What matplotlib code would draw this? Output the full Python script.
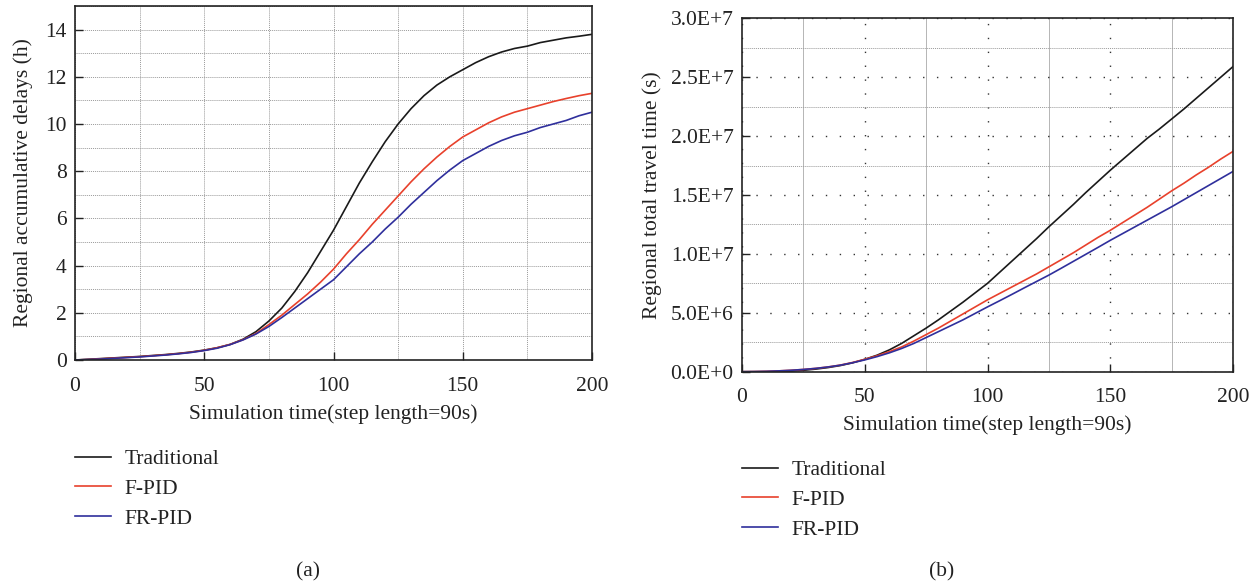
import matplotlib
matplotlib.use("Agg")
import matplotlib.pyplot as plt
from matplotlib.ticker import MultipleLocator, FixedLocator

plt.rcParams['font.family'] = ['Liberation Serif', 'DejaVu Serif']

steps = list(range(0, 201, 5))

delay_traditional = [0, 0.03, 0.06, 0.09, 0.12, 0.15, 0.19, 0.23, 0.28, 0.34, 0.42, 0.52, 0.66, 0.88,
                     1.2, 1.65, 2.2, 2.9, 3.7, 4.6, 5.5, 6.5, 7.5, 8.4, 9.25, 10.0, 10.65, 11.2, 11.65,
                     12.0, 12.3, 12.6, 12.85, 13.05, 13.2, 13.3, 13.45, 13.55, 13.65, 13.72, 13.8]
delay_fpid = [0, 0.02, 0.05, 0.08, 0.11, 0.14, 0.18, 0.22, 0.27, 0.33, 0.41, 0.52, 0.66, 0.86,
              1.12, 1.5, 1.9, 2.35, 2.8, 3.3, 3.85, 4.5, 5.1, 5.75, 6.35, 6.95, 7.55, 8.1, 8.6,
              9.05, 9.45, 9.75, 10.05, 10.3, 10.5, 10.65, 10.8, 10.95, 11.08, 11.2, 11.3]
delay_frpid = [0, 0.02, 0.04, 0.07, 0.1, 0.13, 0.17, 0.21, 0.26, 0.32, 0.4, 0.5, 0.65, 0.85,
               1.1, 1.42, 1.8, 2.2, 2.6, 3.0, 3.4, 3.95, 4.5, 5.0, 5.55, 6.05, 6.6, 7.1, 7.6,
               8.05, 8.45, 8.75, 9.05, 9.3, 9.5, 9.65, 9.85, 10.0, 10.15, 10.35, 10.5]

# total travel time in units of 1e7 s
tt_traditional = [0, 0, 0, 0.001, 0.005, 0.012, 0.022, 0.035, 0.052, 0.075, 0.105, 0.14, 0.185,
                  0.24, 0.305, 0.37, 0.44, 0.515, 0.59, 0.67, 0.75, 0.845, 0.94, 1.035, 1.13, 1.23,
                  1.325, 1.42, 1.52, 1.615, 1.71, 1.8, 1.89, 1.98, 2.06, 2.145, 2.23, 2.32, 2.41,
                  2.5, 2.59]
tt_fpid = [0, 0.001, 0.003, 0.007, 0.012, 0.019, 0.028, 0.04, 0.056, 0.078, 0.105, 0.135, 0.17,
           0.21, 0.26, 0.315, 0.37, 0.43, 0.49, 0.55, 0.61, 0.665, 0.72, 0.775, 0.83, 0.89, 0.95,
           1.01, 1.075, 1.14, 1.2, 1.265, 1.33, 1.395, 1.465, 1.535, 1.6, 1.67, 1.735, 1.805, 1.87]
tt_frpid = [0, 0.001, 0.003, 0.007, 0.012, 0.019, 0.028, 0.04, 0.055, 0.076, 0.1, 0.128, 0.16,
            0.197, 0.24, 0.29, 0.34, 0.39, 0.44, 0.495, 0.55, 0.603, 0.657, 0.712, 0.766, 0.82,
            0.878, 0.937, 0.996, 1.055, 1.115, 1.172, 1.229, 1.286, 1.343, 1.40, 1.46, 1.52, 1.58,
            1.64, 1.70]

series_names = ['Traditional', 'F-PID', 'FR-PID']
colors = ['#1a1a1a', '#e8412c', '#2f2f9c']
tt_ticks = [0, 0.5e7, 1.0e7, 1.5e7, 2.0e7, 2.5e7, 3.0e7]
tt_ticklabels = ['0.0E+0', '5.0E+6', '1.0E+7', '1.5E+7', '2.0E+7', '2.5E+7', '3.0E+7']

W, H = 1259, 586
fig = plt.figure(figsize=(W / 100, H / 100), dpi=100)

FS = 15.5
TEXT = '#222222'

def style(ax):
    for s in ax.spines.values():
        s.set_linewidth(1.2)
        s.set_color('#222222')
    ax.tick_params(which='major', direction='in', length=6, width=1, labelsize=FS,
                   colors=TEXT)
    ax.tick_params(axis='x', which='major', pad=12)
    ax.tick_params(axis='y', which='major', pad=6)
    ax.tick_params(which='minor', direction='in', length=0)

LEG = dict(loc='upper left', frameon=False, fontsize=FS, handlelength=1.65,
           handletextpad=0.65, labelspacing=0.45, borderaxespad=0, borderpad=0)

# ---------- panel (a) ----------
ax1 = fig.add_axes([75 / W, 1 - 360 / H, (592 - 75) / W, (360 - 6) / H])
for ys, c, n in zip([delay_traditional, delay_fpid, delay_frpid], colors, series_names):
    ax1.plot(steps, ys, color=c, lw=1.2, label=n)
ax1.set_xlim(0, 200)
ax1.set_ylim(0, 15)
ax1.xaxis.set_major_locator(MultipleLocator(50))
ax1.xaxis.set_minor_locator(MultipleLocator(25))
ax1.yaxis.set_major_locator(FixedLocator([0, 2, 4, 6, 8, 10, 12, 14]))
ax1.yaxis.set_minor_locator(MultipleLocator(1))
ax1.grid(which='both', color='#9a9a9a', linestyle=(0, (1, 1)), linewidth=0.7)
style(ax1)
ax1.set_xlabel('Simulation time(step length=90s)', fontsize=FS, labelpad=6, color=TEXT)
ax1.set_ylabel('Regional accumulative delays (h)', fontsize=FS, labelpad=9, color=TEXT)
leg1 = ax1.legend(bbox_to_anchor=(0, -0.252), **LEG)
for t in leg1.get_texts():
    t.set_color(TEXT)

# ---------- panel (b) ----------
ax2 = fig.add_axes([742 / W, 1 - 371.7 / H, (1233 - 742) / W, (371.7 - 18.3) / H])
for ys, c, n in zip([tt_traditional, tt_fpid, tt_frpid], colors, series_names):
    ax2.plot(steps, [v * 1e7 for v in ys], color=c, lw=1.2, label=n)
ax2.set_xlim(0, 200)
ax2.set_ylim(0, 3.0e7)
ax2.xaxis.set_major_locator(MultipleLocator(50))
ax2.xaxis.set_minor_locator(MultipleLocator(25))
ax2.set_yticks(tt_ticks)
ax2.set_yticklabels(tt_ticklabels)
ax2.yaxis.set_minor_locator(MultipleLocator(2.5e6))
ax2.grid(which='major', color='#333333', linestyle=(0, (1, 9)), linewidth=1.0)
ax2.xaxis.grid(which='minor', color='#b5b5b5', linestyle='-', linewidth=0.7)
ax2.yaxis.grid(which='minor', color='#9a9a9a', linestyle=(0, (1, 1)), linewidth=0.7)
style(ax2)
ax2.set_xlabel('Simulation time(step length=90s)', fontsize=FS, labelpad=6, color=TEXT)
ax2.set_ylabel('Regional total travel time (s)', fontsize=FS, labelpad=6, color=TEXT)
leg2 = ax2.legend(bbox_to_anchor=(0, -0.25), **LEG)
for t in leg2.get_texts():
    t.set_color(TEXT)

fig.text(308 / W, 1 - 572 / H, '(a)', fontsize=FS, ha='center', va='center', color=TEXT)
fig.text(942 / W, 1 - 572 / H, '(b)', fontsize=FS, ha='center', va='center', color=TEXT)

fig.savefig('out.png', dpi=100)
